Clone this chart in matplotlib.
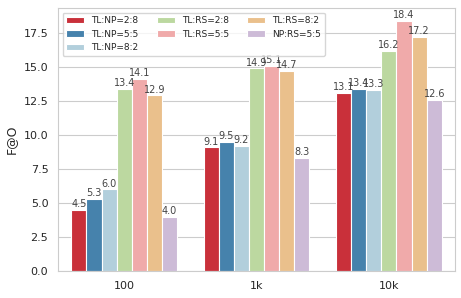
import numpy as np
import matplotlib
matplotlib.use('Agg')
import matplotlib.pyplot as plt
import seaborn as sns

sns.set_style('whitegrid')

groups = ['100', '1k', '10k']
series = ['TL:NP=2:8', 'TL:NP=5:5', 'TL:NP=8:2', 'TL:RS=2:8', 'TL:RS=5:5', 'TL:RS=8:2', 'NP:RS=5:5']
values = [
    [4.5, 9.1, 13.1],
    [5.3, 9.5, 13.4],
    [6.0, 9.2, 13.3],
    [13.4, 14.9, 16.2],
    [14.1, 15.1, 18.4],
    [12.9, 14.7, 17.2],
    [4.0, 8.3, 12.6],
]
colors = ['#c9303a', '#4682ac', '#b2cfdc', '#bcd8a0', '#f0aaaa', '#eac08c', '#cdbbd7']

fig, ax = plt.subplots(figsize=(4.61, 2.98), dpi=100)
x = np.arange(len(groups))
w = 0.8 / len(series)
for i, (name, vals) in enumerate(zip(series, values)):
    pos = x - 0.4 + w * (i + 0.5)
    bars = ax.bar(pos, vals, w, color=colors[i], edgecolor='white', linewidth=0.8, label=name)
    for b, v in zip(bars, vals):
        ax.text(b.get_x() + b.get_width() / 2, v + 0.05, '%.1f' % v,
                ha='center', va='bottom', fontsize=7, color='#444444')

ax.set_xticks(x)
ax.set_xticklabels(groups, fontsize=8)
ax.tick_params(axis='y', labelsize=8)
ax.set_xlim(-0.5, 2.5)
ax.set_ylabel('F@O', fontsize=9)
ax.grid(axis='x', visible=False)
ax.legend(ncol=3, loc='upper left', fontsize=6.5, frameon=True)

plt.subplots_adjust(left=0.126, right=0.987, top=0.973, bottom=0.09)
plt.savefig('out.png', dpi=100)
